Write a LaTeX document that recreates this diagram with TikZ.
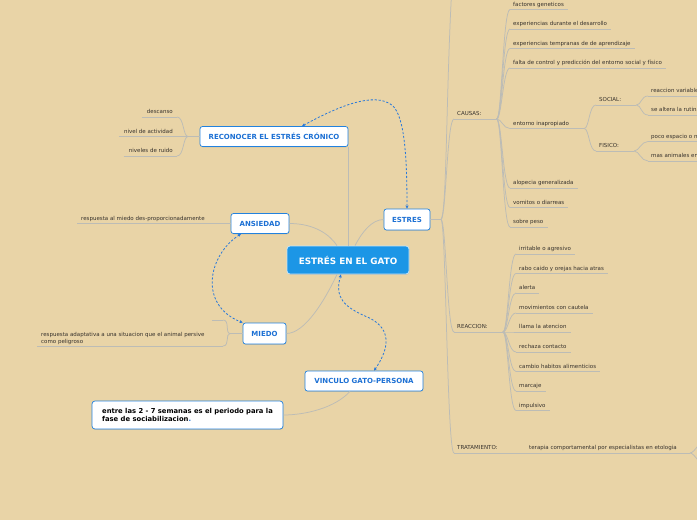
\documentclass[tikz,border=0pt]{standalone}
\usepackage{fontspec}
\setmainfont{DejaVu Sans}
\usetikzlibrary{arrows.meta,shadows}
\definecolor{bgc}{RGB}{233,212,167}
\definecolor{connc}{RGB}{188,188,182}
\definecolor{leaft}{RGB}{55,50,45}
\definecolor{boxb}{RGB}{35,130,222}
\definecolor{boxt}{RGB}{28,112,212}
\definecolor{cfill}{RGB}{28,150,230}
\definecolor{relc}{RGB}{40,120,218}
\newcommand{\mmleaf}[5][3]{%
  \coordinate (#2-s) at (#3,#4);
  \node[leaf, anchor=base west] (#2) at (#3+#1,#4-3.5) {#5};
  \path (#2.east |- #2-s) ++(4,0) coordinate (#2-e);
  \draw[conn] (#2-s) -- (#2-e);}
\newcommand{\mmpar}[5][3]{%
  \coordinate (#2-s) at (#3,#4);
  \node[leaf, anchor=base west] (#2) at (#3+#1,#4-3.5) {#5};
  \path (#2.east |- #2-s) ++(15,0) coordinate (#2-e);
  \draw[conn] (#2-s) -- (#2-e);}
\newcommand{\mmleafL}[5][4]{%
  \coordinate (#2-e) at (#3,#4);
  \node[leaf, anchor=base east] (#2) at (#3-#1,#4-3.5) {#5};
  \path (#2.west |- #2-e) ++(-5,0) coordinate (#2-s);
  \draw[conn] (#2-s) -- (#2-e);}
\newcommand{\mmr}[2]{\draw[conn] (#1) .. controls ([xshift=5pt]#1) and ([xshift=-7pt]#2) .. (#2);}
\newcommand{\mml}[2]{\draw[conn] (#1) .. controls ([xshift=-5pt]#1) and ([xshift=7pt]#2) .. (#2);}
\begin{document}
\begin{tikzpicture}[x=1pt,y=-1pt,
  conn/.style={draw=connc, line width=0.75pt},
  leaf/.style={font=\fontsize{5.5}{6.4}\selectfont, text=leaft, inner sep=0pt},
  tbox/.style={draw=boxb, fill=white, rounded corners=2.5pt, line width=0.7pt,
    font=\fontsize{7}{8}\selectfont\bfseries, text=boxt, inner sep=0pt,
    drop shadow={shadow xshift=0.4pt, shadow yshift=-0.8pt, opacity=0.25}},
  cbox/.style={draw=white!75!cfill, fill=cfill, rounded corners=3pt, line width=0.8pt,
    font=\fontsize{8.8}{10}\selectfont\bfseries, text=white, inner sep=0pt,
    drop shadow={shadow xshift=0.4pt, shadow yshift=-0.8pt, opacity=0.25}},
  ebox/.style={draw=boxb, fill=white, rounded corners=3pt, line width=0.7pt,
    font=\fontsize{6.8}{8}\selectfont\bfseries, text=black, inner sep=0pt,
    drop shadow={shadow xshift=0.4pt, shadow yshift=-0.8pt, opacity=0.25}},
  rel/.style={draw=relc, line width=0.8pt, dash pattern=on 2.2pt off 1.8pt,
    {Stealth[length=3.2pt,width=3pt]}-{Stealth[length=3.2pt,width=3pt]}}]
\useasboundingbox (0,0) rectangle (697,520);
\fill[bgc] (0,0) rectangle (697,520);
\clip (0,0) rectangle (697,520);

% main boxes
\node[cbox, minimum width=122pt, minimum height=28pt] (central) at (348,260) {ESTRÉS EN EL GATO};
\node[tbox, minimum width=148pt, minimum height=20pt] (reconocer) at (274,136.5) {RECONOCER EL ESTRÉS CRÓNICO};
\node[tbox, minimum width=58pt, minimum height=20pt] (ansiedad) at (260,223.5) {ANSIEDAD};
\node[tbox, minimum width=46pt, minimum height=21pt] (estres) at (407,219.5) {ESTRES};
\node[tbox, minimum width=43pt, minimum height=21pt] (miedo) at (264.5,333.5) {MIEDO};
\node[tbox, minimum width=118pt, minimum height=20pt] (vinculo) at (364,381) {VINCULO GATO-PERSONA};
\node[ebox, minimum width=191pt, minimum height=28pt, align=left] (entre) at (187.5,415)
  {entre las 2 - 7 semanas es el periodo para la\\fase de sociabilizacion\textcolor{boxt}{.}};

% central connectors
\draw[conn] (central.north) -- (central.north |- reconocer.south);
\draw[conn] (ansiedad.east) .. controls (315,223.5) and (330,235) .. ([xshift=-11pt]central.north);
\draw[conn] ([xshift=7pt]central.north) .. controls (362,232) and (372,219.5) .. (estres.west);
\draw[conn] ([xshift=-11pt]central.south) .. controls (325,300) and (305,333.5) .. (miedo.east);
\draw[conn] ([xshift=-14pt]vinculo.south) .. controls (335,408) and (305,415) .. (entre.east);

% relationships
\draw[rel] ([xshift=28pt]reconocer.north) .. controls (335,108) and (375,90) .. (393,106)
  .. controls (405,118) and (407,160) .. (estres.north);
\draw[rel] ([xshift=-19pt]ansiedad.south) .. controls (208,255) and (198,305) .. (miedo.north west);
\draw[rel] ([xshift=-7pt]central.south) .. controls (334,298) and (345,307) .. (365,316)
  .. controls (390,326) and (392,345) .. ([xshift=10pt]vinculo.north);

% RECONOCER leaves
\coordinate (rf) at (188,136.5);
\mmleafL{d1}{177}{117}{descanso}
\mmleafL[15]{d2}{188}{136.5}{nivel de actividad}
\mmleafL{d3}{177}{156}{niveles de ruido}
\draw[conn] (d2-e) -- (reconocer.west);
\mml{rf}{d1-e}
\mml{rf}{d3-e}

% ANSIEDAD leaf
\mmleaf[4]{a1}{77}{223.5}{respuesta al miedo des-proporcionadamente}
\draw[conn] (a1-e) -- (ansiedad.west);

% MIEDO leaves
\coordinate (mf) at (230,333.5);
\draw[conn] (miedo.west) -- (mf);
\coordinate (m0-s) at (212,320);
\coordinate (m0-e) at (223,320);
\draw[conn] (m0-s) -- (m0-e);
\node[leaf, align=left, anchor=south west] (m1) at (41,344.6)
  {respuesta adaptativa a una situacion que el animal persive\\como peligroso};
\coordinate (m1-s) at (37,346);
\coordinate (m1-e) at (223,346);
\draw[conn] (m1-s) -- (m1-e);
\mml{mf}{m0-e}
\mml{mf}{m1-e}

% ESTRES trunk
\coordinate (ef) at (441,219.5);
\draw[conn] (estres.east) -- (ef);
\coordinate (topout) at (452,-15);
\draw[conn] (ef) .. controls (447,212) and (446,90) .. (topout);

\mmpar{causas}{454}{119}{CAUSAS:}
\mmpar{reac}{454}{332}{REACCION:}
\mmleaf{trat}{454}{453}{TRATAMIENTO:}
\mmr{ef}{causas-s}
\mmr{ef}{reac-s}
\mmr{ef}{trat-s}

% CAUSAS children
\mmleaf{c1}{510}{9.5}{factores geneticos}
\mmleaf{c2}{510}{29}{experiencias durante el desarrollo}
\mmleaf{c3}{510}{48.5}{experiencias tempranas de de aprendizaje}
\mmleaf{c4}{510}{68}{falta de control y predicción del entorno social y físico}
\mmpar{c5}{510}{128.5}{entorno inapropiado}
\mmleaf{c6}{510}{188}{alopecia generalizada}
\mmleaf{c7}{510}{207.5}{vomitos o diarreas}
\mmleaf{c8}{510}{227}{sobre peso}
\foreach \c in {c1,c2,c3,c4,c5,c6,c7,c8} {\mmr{causas-e}{\c-s}}

\mmpar[3]{soc}{596}{105}{SOCIAL:}
\mmpar[3]{fis}{596}{151}{FISICO:}
\mmr{c5-e}{soc-s}
\mmr{c5-e}{fis-s}
\mmleaf{s1}{648}{96}{reaccion variable}
\mmleaf{s2}{648}{115}{se altera la rutina}
\mmleaf{f1}{648}{141.5}{poco espacio o m}
\mmleaf{f2}{648}{161}{mas animales en}
\draw[conn] (s1-s) -- ++(60,0);
\draw[conn] (s2-s) -- ++(60,0);
\draw[conn] (f1-s) -- ++(60,0);
\draw[conn] (f2-s) -- ++(60,0);
\mmr{soc-e}{s1-s}
\mmr{soc-e}{s2-s}
\mmr{fis-e}{f1-s}
\mmr{fis-e}{f2-s}

% REACCION children
\mmleaf{r1}{516}{254}{irritable o agresivo}
\mmleaf{r2}{516}{273.5}{rabo caido y orejas hacia atras}
\mmleaf{r3}{516}{293}{alerta}
\mmleaf{r4}{516}{313}{movimientos con cautela}
\mmleaf{r5}{516}{332}{llama la atencion}
\mmleaf{r6}{516}{352}{rechaza contacto}
\mmleaf{r7}{516}{371.5}{cambio habitos alimenticios}
\mmleaf{r8}{516}{391}{marcaje}
\mmleaf{r9}{516}{410.5}{impulsivo}
\foreach \c in {r1,r2,r3,r4,r5,r6,r7,r8,r9} {\mmr{reac-e}{\c-s}}

% TRATAMIENTO child
\mmleaf[9]{t1}{520}{453}{terapia comportamental por especialistas en etologia}
\draw[conn] (trat-e) -- (t1-s);
\coordinate (t1x) at (690,453);
\draw[conn] (t1-e) -- (t1x);
\coordinate (t1a) at (708,438);
\coordinate (t1b) at (708,468);
\mmr{t1x}{t1a}
\mmr{t1x}{t1b}
\end{tikzpicture}
\end{document}
